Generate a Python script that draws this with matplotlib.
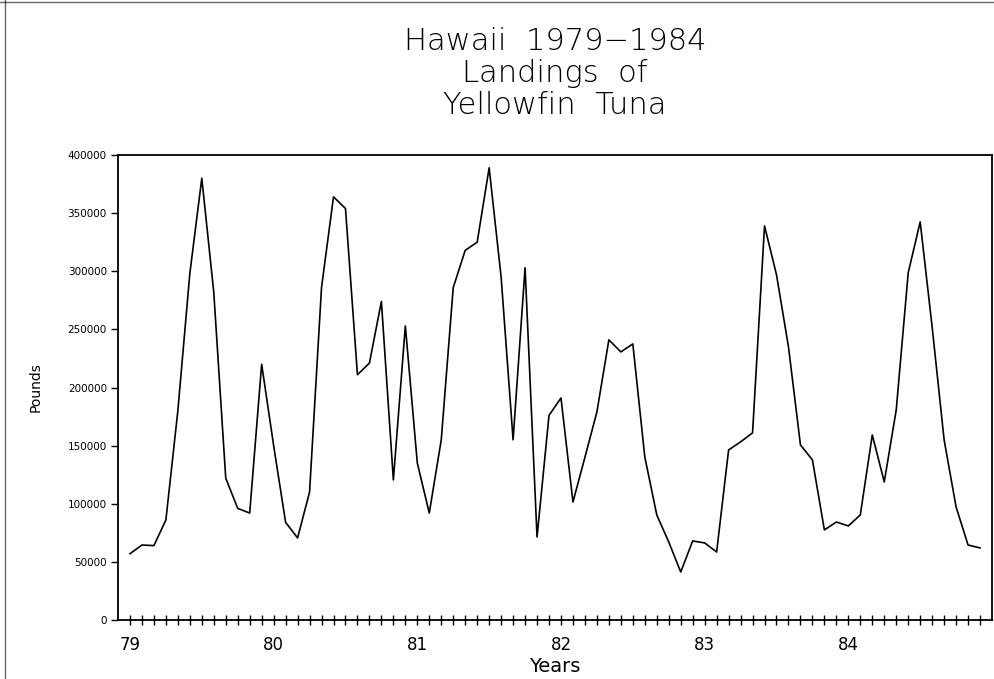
import numpy as np
import matplotlib
matplotlib.use("Agg")
import matplotlib.pyplot as plt
from matplotlib.lines import Line2D

# Monthly landings, Jan 1979 .. Dec 1984 (pounds)
landings = [
    57000, 64500, 64000, 86000, 180000, 298000, 380000, 282000, 122000, 96000, 92000, 220000,
    150000, 84000, 70600, 110000, 286000, 364000, 354000, 211000, 221000, 274000, 120500, 253000,
    135000, 92000, 155000, 286000, 318000, 325000, 389000, 295000, 155000, 303000, 71400, 176000,
    191000, 101500, 140000, 179000, 241000, 230600, 237500, 140300, 90400, 67100, 41300, 68000,
    66300, 58500, 146300, 153200, 161000, 339000, 297000, 235000, 150600, 137700, 77500, 84300,
    80900, 90400, 159200, 118800, 180700, 298600, 342500, 252000, 155000, 97200, 64500, 62000,
]
years = [79, 80, 81, 82, 83, 84]
year_labels = ["79", "80", "81", "82", "83", "84"]
y_ticks = [0, 50000, 100000, 150000, 200000, 250000, 300000, 350000, 400000]
title_lines = ["Hawaii  1979\u22121984", "Landings  of", "Yellowfin  Tuna"]

months = 79 + np.arange(len(landings)) / 12.0

fig = plt.figure(figsize=(9.94, 6.79), dpi=100)
ax = fig.add_axes([0.1187, 0.0869, 0.8793, 0.6848])

ax.plot(months, landings, color="black", linewidth=1.2)

ax.set_xlim(79 - 1 / 12.0, 85.0)
ax.set_ylim(0, 400000)

ax.set_xticks(years)
ax.set_xticklabels(year_labels, fontsize=12)
ax.set_xticks(months, minor=True)
ax.tick_params(axis="x", which="both", direction="inout", length=7, width=1.0, pad=8)

ax.set_yticks(y_ticks)
ax.set_yticklabels([str(v) for v in y_ticks], fontsize=7.5)
ax.tick_params(axis="y", direction="out", length=5, width=1.0, pad=3)

for s in ax.spines.values():
    s.set_linewidth(1.3)
    s.set_color("black")

ax.set_xlabel("Years", fontsize=14, labelpad=2)
ax.set_ylabel("Pounds", fontsize=10, labelpad=18)

cx = (0.1187 + 0.998) / 2
for txt, ypix in zip(title_lines, [42, 74, 105]):
    fig.text(cx, 1 - ypix / 679, txt, ha="center", va="center",
             fontsize=22, fontweight="light")

# page border from the scanned original
fig.add_artist(Line2D([5 / 994, 5 / 994], [0, 1], color="black", linewidth=1.0, alpha=0.6))
fig.add_artist(Line2D([0, 1], [1 - 2 / 679, 1 - 2 / 679], color="black", linewidth=1.0, alpha=0.6))

fig.savefig("out.png", dpi=100)
